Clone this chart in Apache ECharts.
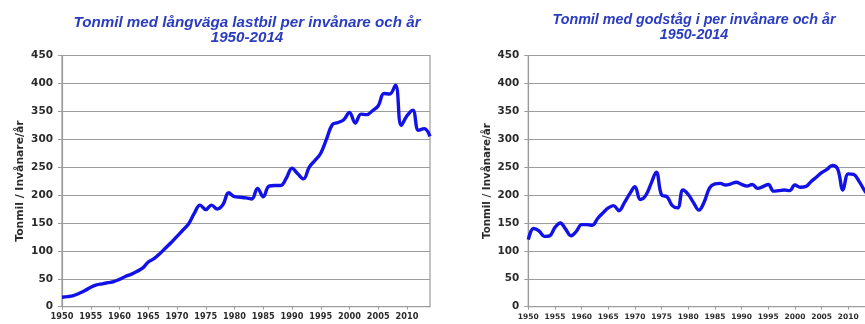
<!DOCTYPE html>
<html>
<head>
<meta charset="utf-8">
<script src="https://cdn.jsdelivr.net/npm/echarts@6/dist/echarts.min.js"></script>
<style>
  html, body { margin: 0; padding: 0; background: #fff; }
  #chart { width: 865px; height: 324px; }
</style>
</head>
<body>
<div id="chart"></div>
<script>
// Years shown on both horizontal axes
const years = [];
for (let y = 1950; y <= 2014; y++) years.push(String(y));

// Tonmil per invånare och år, långväga lastbil
const lastbil = [
  17, 18, 20, 24, 29, 35, 39, 41, 43, 45,
  49, 54, 58, 63, 69, 80, 86, 95, 105, 115,
  126, 137, 148, 167, 182, 174, 182, 175, 183, 204,
  197, 196, 195, 193, 212, 197, 216, 217, 217, 230,
  248, 238, 229, 250, 262, 275, 300, 326, 330, 335,
  348, 329, 345, 344, 351, 360, 382, 381, 397, 325,
  342, 352, 316, 319, 305
];

// Tonmil per invånare och år, godståg
const godstag = [
  120, 140, 136, 126, 127, 142, 150, 139, 127, 135,
  147, 147, 146, 158, 168, 177, 181, 172, 186, 202,
  215, 192, 199, 220, 241, 200, 197, 181, 177, 209,
  201, 186, 173, 188, 213, 220, 221, 218, 220, 223,
  219, 216, 219, 212, 215, 219, 207, 208, 209, 208,
  218, 214, 215, 224, 232, 240, 246, 253, 247, 209,
  238, 237, 225, 209, 196
];

const titles = [
  'Tonmil med långväga lastbil per invånare och år\n1950-2014',
  'Tonmil med godståg i per invånare och år\n1950-2014'
];
const yName = 'Tonmil / Invånare/år';

const tickFont = '"DejaVu Sans", Verdana, sans-serif';
const textGray = '#2b2b2b';
const gridGray = '#9c9c9c';

function xAxisFor(gridIndex, fontSize) {
  return {
    type: 'category', gridIndex, data: years, boundaryGap: false,
    axisLine: { lineStyle: { color: gridGray, width: 1.2 } },
    axisTick: { interval: 4, length: 3, lineStyle: { color: gridGray } },
    axisLabel: { interval: 4, margin: 6, color: textGray, fontFamily: tickFont,
                 fontWeight: 'bold', fontSize },
    splitLine: { show: false }
  };
}
function yAxisFor(gridIndex, fontSize, nameSize) {
  return {
    type: 'value', gridIndex, min: 0, max: 450, interval: 50,
    name: yName, nameLocation: 'middle', nameGap: 36, nameRotate: 90,
    nameTextStyle: { color: textGray, fontFamily: tickFont, fontWeight: 'bold', fontSize: nameSize },
    axisLine: { show: true, lineStyle: { color: gridGray, width: 1.2 } },
    axisTick: { show: true, length: 4, lineStyle: { color: gridGray } },
    axisLabel: { margin: 9, color: textGray, fontFamily: tickFont, fontWeight: 'bold', fontSize },
    splitLine: { lineStyle: { color: gridGray, width: 1.2 } }
  };
}
function lineFor(index, data) {
  return {
    type: 'line', xAxisIndex: index, yAxisIndex: index, data,
    smooth: 0.4, symbol: 'none',
    lineStyle: { color: '#1212e6', width: 3.4 }
  };
}

const chart = echarts.init(document.getElementById('chart'), null, { renderer: 'canvas' });
chart.setOption({
  animation: false,
  backgroundColor: '#ffffff',
  title: [
    { text: titles[0], left: 242, top: 10, textAlign: 'center',
      textStyle: { color: '#2a3cc0', fontFamily: '"Liberation Sans", Arial, sans-serif',
                   fontStyle: 'italic', fontWeight: 'bold', fontSize: 15.2, lineHeight: 15 } },
    { text: titles[1], left: 689, top: 8, textAlign: 'center',
      textStyle: { color: '#2a3cc0', fontFamily: '"Liberation Sans", Arial, sans-serif',
                   fontStyle: 'italic', fontWeight: 'bold', fontSize: 14.3, lineHeight: 14.5 } }
  ],
  grid: [
    { left: 62, top: 55.5, width: 368, height: 251.2, containLabel: false, outerBoundsMode: 'none',
      show: true, borderColor: gridGray, borderWidth: 1.2, backgroundColor: 'transparent' },
    { left: 528.3, top: 55.5, width: 341.3, height: 251.2, containLabel: false, outerBoundsMode: 'none',
      show: true, borderColor: gridGray, borderWidth: 1.2, backgroundColor: 'transparent' }
  ],
  xAxis: [xAxisFor(0, 8.2), xAxisFor(1, 7.5)],
  yAxis: [yAxisFor(0, 10.5, 10.8), yAxisFor(1, 10.4, 10.3)],
  series: [lineFor(0, lastbil), lineFor(1, godstag)]
});
</script>
</body>
</html>
